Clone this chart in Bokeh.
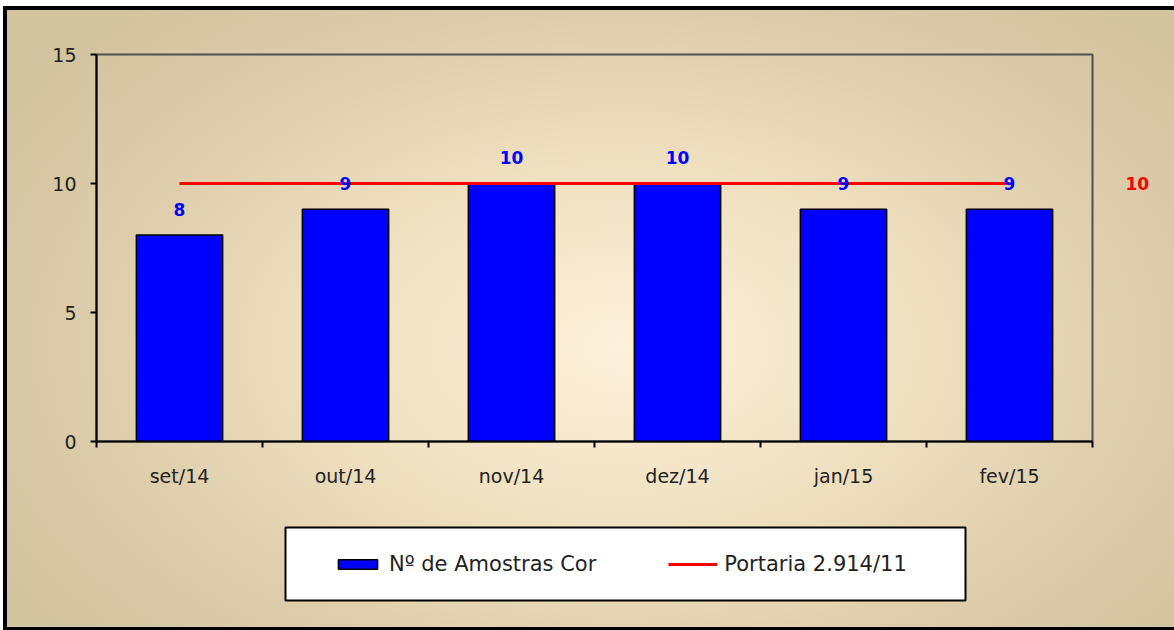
from bokeh.plotting import figure
from bokeh.layouts import column
from bokeh.models import (Range1d, FixedTicker, Legend, LegendItem, LinearAxis,
                          BoxAnnotation)
from bokeh.core.properties import value
from bokeh.embed import file_html
from bokeh.resources import INLINE

# ---- data ----
categories = ["set/14", "out/14", "nov/14", "dez/14", "jan/15", "fev/15"]
amostras = [8, 9, 10, 10, 9, 9]
portaria = [10, 10, 10, 10, 10, 10]
y_ticks = [0, 5, 10, 15]
series_names = ["Nº de Amostras Cor", "Portaria 2.914/11"]

xs = [i + 0.5 for i in range(len(categories))]
FONT = "DejaVu Sans"
BAR_STYLE = dict(fill_color="#0000FF", line_color="#000000", line_width=1.5)
LINE_STYLE = dict(line_color="#FF0000", line_width=3)

p = figure(frame_width=996, frame_height=387, output_backend="svg", toolbar_location=None,
           x_range=Range1d(0, len(categories)), y_range=Range1d(0, 15),
           min_border_left=96, min_border_right=82, min_border_top=54,
           min_border_bottom=59)
p.background_fill_alpha = 0
p.border_fill_alpha = 0
p.outline_line_color = "#505050"
p.outline_line_width = 2
p.xgrid.visible = False
p.ygrid.visible = False

# axes
p.yaxis.ticker = FixedTicker(ticks=y_ticks)
p.yaxis.major_tick_out = 6
p.yaxis.major_tick_in = 0
p.yaxis.minor_tick_line_color = None
p.yaxis.axis_line_width = 2
p.yaxis.axis_line_color = "#000000"
p.yaxis.major_tick_line_width = 2
p.yaxis.major_label_standoff = 14
p.yaxis.major_label_text_font = FONT
p.yaxis.major_label_text_font_size = "19px"
p.yaxis.major_label_text_color = "#222222"

p.xaxis.ticker = FixedTicker(ticks=xs, minor_ticks=list(range(len(categories) + 1)))
p.xaxis.major_label_overrides = {x: c for x, c in zip(xs, categories)}
p.xaxis.major_tick_out = 0
p.xaxis.major_tick_in = 0
p.xaxis.minor_tick_out = 6
p.xaxis.minor_tick_in = 0
p.xaxis.minor_tick_line_width = 2
p.xaxis.minor_tick_line_color = "#000000"
p.xaxis.axis_line_width = 2
p.xaxis.axis_line_color = "#000000"
p.xaxis.major_label_standoff = 17
p.xaxis.major_label_text_font = FONT
p.xaxis.major_label_text_font_size = "19px"
p.xaxis.major_label_text_color = "#222222"

# right-hand axis carrying the reference value label
raxis = LinearAxis(ticker=FixedTicker(ticks=[portaria[-1]]),
                   major_label_overrides={portaria[-1]: str(portaria[-1])})
raxis.axis_line_color = None
raxis.major_tick_line_color = None
raxis.minor_tick_line_color = None
raxis.major_label_standoff = 27
raxis.major_label_text_color = "#FF0000"
raxis.major_label_text_font = FONT
raxis.major_label_text_font_style = "bold"
raxis.major_label_text_font_size = "17px"
p.add_layout(raxis, "right")

# bars and reference line
p.vbar(x=xs, top=amostras, width=0.52, **BAR_STYLE)
p.line(x=xs, y=portaria, **LINE_STYLE)

# data labels
p.text(x=xs, y=amostras, text=[str(v) for v in amostras],
       text_align="center", text_baseline="middle", y_offset=-26,
       text_color="#0000FF", text_font=value(FONT), text_font_style="bold",
       text_font_size="17px")

# ---- legend strip (separate figure under the chart) ----
lg = figure(frame_width=1174, frame_height=130, output_backend="svg", toolbar_location=None,
            x_range=Range1d(0, 1174), y_range=Range1d(0, 130),
            x_axis_location=None, y_axis_location=None,
            min_border=0, min_border_left=0, min_border_right=0,
            min_border_top=0, min_border_bottom=0)
lg.background_fill_alpha = 0
lg.border_fill_alpha = 0
lg.outline_line_color = None
lg.xgrid.visible = False
lg.ygrid.visible = False
# legend sample renderers: same series, mapped to an off-screen range
lg.extra_y_ranges = {"off": Range1d(1000, 1001)}
r_bar = lg.vbar(x=xs, top=amostras, width=0.5, y_range_name="off", **BAR_STYLE)
r_line = lg.line(x=xs, y=portaria, y_range_name="off", **LINE_STYLE)

# legend frame (the strip's plot area is aligned 96px in from the page edge)
lg.add_layout(BoxAnnotation(left=189, right=869, bottom=30, top=103,
                            fill_color="#FFFFFF", fill_alpha=1,
                            line_color="#000000", line_alpha=1, line_width=2))

legend = Legend(items=[LegendItem(label=series_names[0], renderers=[r_bar]),
                       LegendItem(label=series_names[1], renderers=[r_line])],
                orientation="horizontal", location=(333, 54))
legend.padding = 0
legend.margin = 0
legend.spacing = 72
legend.glyph_width = 49
legend.glyph_height = 12
legend.label_standoff = 7
legend.label_text_font = FONT
legend.label_text_font_size = "21px"
legend.label_text_color = "#222222"
legend.border_line_color = None
legend.background_fill_alpha = 0
lg.add_layout(legend, "center")

page = column(p, lg, spacing=0)
page.styles = {
    "background": "radial-gradient(ellipse 62% 72% at 53% 55%, #FDF1DA 0%, #EFE0C0 40%, #DCCCA9 75%, #D3C4A0 100%)",
    "box-shadow": "inset 0 6px 0 #fff, inset 3px 0 0 #fff, inset 0 10px 0 #000, inset 7px 0 0 #000, inset 0 -3px 0 #000",
}

open("out.html", "w").write(file_html(page, INLINE))
